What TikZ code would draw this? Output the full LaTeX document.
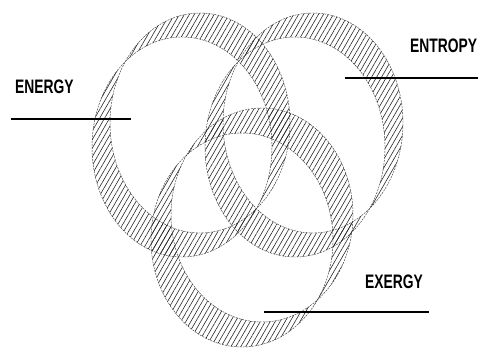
\documentclass[tikz,border=0pt]{standalone}
\usepackage{fontspec}
\newfontfamily\labfont[FakeStretch=0.71]{Liberation Sans Bold}
\usetikzlibrary{patterns.meta}
\tikzset{
  hatchband/.style={pattern={Lines[angle=60,distance=4.3pt,line width=0.6pt]},pattern color=black!85,even odd rule},
  bandedge/.style={draw=black!75,line width=0.45pt,dash pattern=on 2pt off 1pt},
  labeltext/.style={anchor=base west,inner sep=0pt,font=\labfont\fontsize{19.5}{20}\selectfont},
  labelline/.style={line width=1.2pt,black}
}
\begin{document}
\begin{tikzpicture}[x=1pt,y=-1pt]
\useasboundingbox (0,0) rectangle (478,351);
% Energy ring
\fill[hatchband] (200,123) ellipse [x radius=90pt,y radius=110pt] (182,147) ellipse [x radius=90pt,y radius=110pt];
\draw[bandedge] (200,123) ellipse [x radius=90pt,y radius=110pt];
\draw[bandedge] (182,147) ellipse [x radius=90pt,y radius=110pt];
% Entropy ring
\fill[hatchband] (313,123) ellipse [x radius=90pt,y radius=110pt] (295,147) ellipse [x radius=90pt,y radius=110pt];
\draw[bandedge] (313,123) ellipse [x radius=90pt,y radius=110pt];
\draw[bandedge] (295,147) ellipse [x radius=90pt,y radius=110pt];
% Exergy ring
\fill[hatchband] (262,215) ellipse [x radius=91pt,y radius=107pt] (242,240) ellipse [x radius=91pt,y radius=107pt];
\draw[bandedge] (262,215) ellipse [x radius=91pt,y radius=107pt];
\draw[bandedge] (242,240) ellipse [x radius=91pt,y radius=107pt];
% Labels
\node[labeltext] (energy) at (15,93) {ENERGY};
\node[labeltext] (entropy) at (410,52) {ENTROPY};
\node[labeltext] (exergy) at (365,288) {EXERGY};
\coordinate (enA) at (11,119); \coordinate (enB) at (131,119);
\coordinate (etA) at (345,78); \coordinate (etB) at (478,78);
\coordinate (exA) at (264,312); \coordinate (exB) at (429,312);
\draw[labelline] (enA) -- (enB);
\draw[labelline] (etA) -- (etB);
\draw[labelline] (exA) -- (exB);
\end{tikzpicture}
\end{document}
